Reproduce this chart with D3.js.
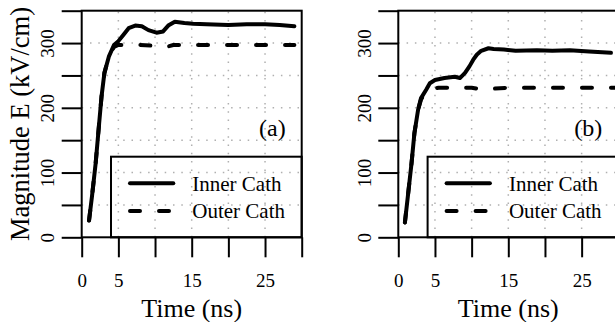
<!DOCTYPE html>
<html>
<head>
<meta charset="utf-8">
<script src="https://cdn.jsdelivr.net/npm/d3@7"></script>
<style>
  body { margin: 0; background: #fff; }
  text { font-family: "Liberation Serif", "Times New Roman", serif; fill: #000; }
</style>
</head>
<body>
<div id="chart-holder"></div>
<script>
// data (time in ns, field in kV/cm)
var timeInnerA = [1.0, 1.4, 1.9, 2.3, 2.7, 3.1, 3.7, 4.4, 5.0, 5.7, 6.4, 7.3, 8.2, 9.1, 10.2, 11.1, 11.8, 12.7, 14, 15.2, 17, 20, 22.5, 25, 27, 29];
var innerA = [26, 63, 114, 166, 217, 254, 279, 297, 303, 313, 323, 327, 326, 320, 316, 318, 327, 333, 331, 330, 329, 328, 329, 329, 328, 326];
var timeOuterA = [1.0, 1.4, 1.9, 2.3, 2.7, 3.1, 3.7, 4.4, 5.0, 6.0, 8.0, 9.5, 10.5, 11.5, 12.5, 15, 20, 25, 29];
var outerA = [26, 63, 114, 166, 217, 254, 279, 294, 297, 297, 297, 296, 295, 294, 297, 297, 297, 297, 297];

var timeInnerB = [0.9, 1.3, 1.8, 2.2, 2.7, 3.1, 3.8, 4.3, 5.0, 6.3, 7.7, 8.4, 9.1, 9.7, 10.2, 10.7, 11.3, 12.3, 13, 14.4, 16, 18.9, 21, 23.4, 26, 29];
var innerB = [23, 63, 114, 161, 197, 215, 228, 238, 243, 246, 248, 246, 254, 264, 274, 282, 288, 292, 291, 290, 288, 289, 288, 289, 287, 285];
var timeOuterB = [0.9, 1.3, 1.8, 2.2, 2.7, 3.1, 3.8, 4.5, 5.5, 8, 10, 11, 12, 15, 20, 25, 29.5];
var outerB = [23, 63, 114, 161, 197, 213, 224, 229, 231, 231, 231, 229, 229, 231, 231, 231, 231];

var xTicks = [0, 5, 10, 15, 20, 25, 30];
var xTickLabels = [0, 5, 15, 25];
var yTicks = [0, 50, 100, 150, 200, 250, 300, 350];
var yTickLabels = [0, 100, 200, 300];
var seriesNames = ["Inner Cath", "Outer Cath"];

var svg = d3.select("#chart-holder")
  .append("svg")
  .attr('width', 615)
  .attr('height', 322);

// useful constants
var plotW = 220;
var plotTop = 10.7;
var plotBottom = 237.3;
var tickLen = 20;

function drawPanel(left, tag, tInner, vInner, tOuter, vOuter, showYTitle) {
  var x = d3.scaleLinear().domain([0, 30]).range([left, left + plotW]);
  var y = d3.scaleLinear().domain([0, 350]).range([plotBottom, plotTop]);
  var g = svg.append("g");

  // dotted grid
  g.selectAll("line.gx")
    .data(xTicks.slice(1, -1))
    .enter()
    .append("line")
    .attr('x1', function(d) { return x(d); })
    .attr('x2', function(d) { return x(d); })
    .attr('y1', plotBottom)
    .attr('y2', plotTop)
    .attr('stroke', '#b0b0b0')
    .attr('stroke-width', 1.5)
    .attr('stroke-dasharray', '1.5,6.8');
  g.selectAll("line.gy")
    .data(yTicks.slice(1, -1))
    .enter()
    .append("line")
    .attr('x1', left)
    .attr('x2', left + plotW)
    .attr('y1', function(d) { return y(d); })
    .attr('y2', function(d) { return y(d); })
    .attr('stroke', '#b0b0b0')
    .attr('stroke-width', 1.5)
    .attr('stroke-dasharray', '1.5,6.8');

  // curves
  var line = d3.line()
    .x(function(d) { return x(d[0]); })
    .y(function(d) { return y(d[1]); });
  g.append("path")
    .datum(d3.zip(tOuter, vOuter))
    .attr('d', line)
    .attr('fill', 'none')
    .attr('stroke', '#000')
    .attr('stroke-width', 4)
    .attr('stroke-linecap', 'round')
    .attr('stroke-linejoin', 'round')
    .attr('stroke-dasharray', '10,19');
  g.append("path")
    .datum(d3.zip(tInner, vInner))
    .attr('d', line)
    .attr('fill', 'none')
    .attr('stroke', '#000')
    .attr('stroke-width', 4)
    .attr('stroke-linecap', 'round')
    .attr('stroke-linejoin', 'round');

  // axes with long outward ticks
  var xAxis = d3.axisBottom(x)
    .tickValues(xTicks)
    .tickSize(tickLen)
    .tickFormat(function(d) { return xTickLabels.indexOf(d) >= 0 ? d : ""; });
  var gx = g.append("g")
    .attr('transform', 'translate(0,' + plotBottom + ')')
    .call(xAxis);
  gx.select(".domain").remove();
  gx.selectAll(".tick line").attr('stroke', '#000').attr('stroke-width', 2);
  gx.selectAll(".tick text")
    .attr('y', 0)
    .attr('dy', 0)
    .attr('transform', 'translate(0,49.4)')
    .style('font-family', '"Liberation Serif", serif')
    .style('font-size', '19px');

  var yAxis = d3.axisLeft(y)
    .tickValues(yTicks)
    .tickSize(tickLen)
    .tickFormat(function(d) { return yTickLabels.indexOf(d) >= 0 ? d : ""; });
  var gy = g.append("g")
    .attr('transform', 'translate(' + left + ',0)')
    .call(yAxis);
  gy.select(".domain").remove();
  gy.selectAll(".tick line").attr('stroke', '#000').attr('stroke-width', 2);
  gy.selectAll(".tick text")
    .attr('x', 0)
    .attr('dy', 0)
    .attr('text-anchor', 'middle')
    .attr('transform', 'translate(-27.5,0) rotate(-90)')
    .style('font-family', '"Liberation Serif", serif')
    .style('font-size', '19px');

  // frame
  g.append("rect")
    .attr('x', left)
    .attr('y', plotTop)
    .attr('width', plotW)
    .attr('height', plotBottom - plotTop)
    .attr('fill', 'none')
    .attr('stroke', '#000')
    .attr('stroke-width', 2);

  // legend
  var lg = g.append("g").attr('transform', 'translate(' + left + ',0)');
  lg.append("rect")
    .attr('x', 29.3)
    .attr('y', 156.7)
    .attr('width', plotW - 29.3)
    .attr('height', plotBottom - 156.7)
    .attr('fill', 'none')
    .attr('stroke', '#000')
    .attr('stroke-width', 2);
  var rowY = [183.3, 211];
  lg.selectAll("line.key")
    .data(seriesNames)
    .enter()
    .append("line")
    .attr('x1', 48.3)
    .attr('x2', 91.6)
    .attr('y1', function(d, i) { return rowY[i]; })
    .attr('y2', function(d, i) { return rowY[i]; })
    .attr('stroke', '#000')
    .attr('stroke-width', 4)
    .attr('stroke-linecap', 'round')
    .attr('stroke-dasharray', function(d, i) { return i == 1 ? '10,19' : null; });
  lg.selectAll("text.key")
    .data(seriesNames)
    .enter()
    .append("text")
    .attr('x', 110.6)
    .attr('y', function(d, i) { return rowY[i] + 7.4; })
    .style('font-size', '21px')
    .text(function(d) { return d; });

  // panel tag
  g.append("text")
    .attr('x', left + plotW - 16)
    .attr('y', 136)
    .attr('text-anchor', 'end')
    .style('font-size', '24px')
    .text(tag);

  // axis titles
  g.append("text")
    .attr('x', left + plotW / 2)
    .attr('y', 317.3)
    .attr('text-anchor', 'middle')
    .style('font-size', '26px')
    .text("Time (ns)");
  if (showYTitle) {
    g.append("text")
      .attr('transform', 'translate(29,' + (plotTop + plotBottom) / 2 + ') rotate(-90)')
      .attr('text-anchor', 'middle')
      .style('font-size', '26.5px')
      .text("Magnitude E (kV/cm)");
  }
}

drawPanel(81.7, "(a)", timeInnerA, innerA, timeOuterA, outerA, true);
drawPanel(398.3, "(b)", timeInnerB, innerB, timeOuterB, outerB, false);
</script>
</body>
</html>
